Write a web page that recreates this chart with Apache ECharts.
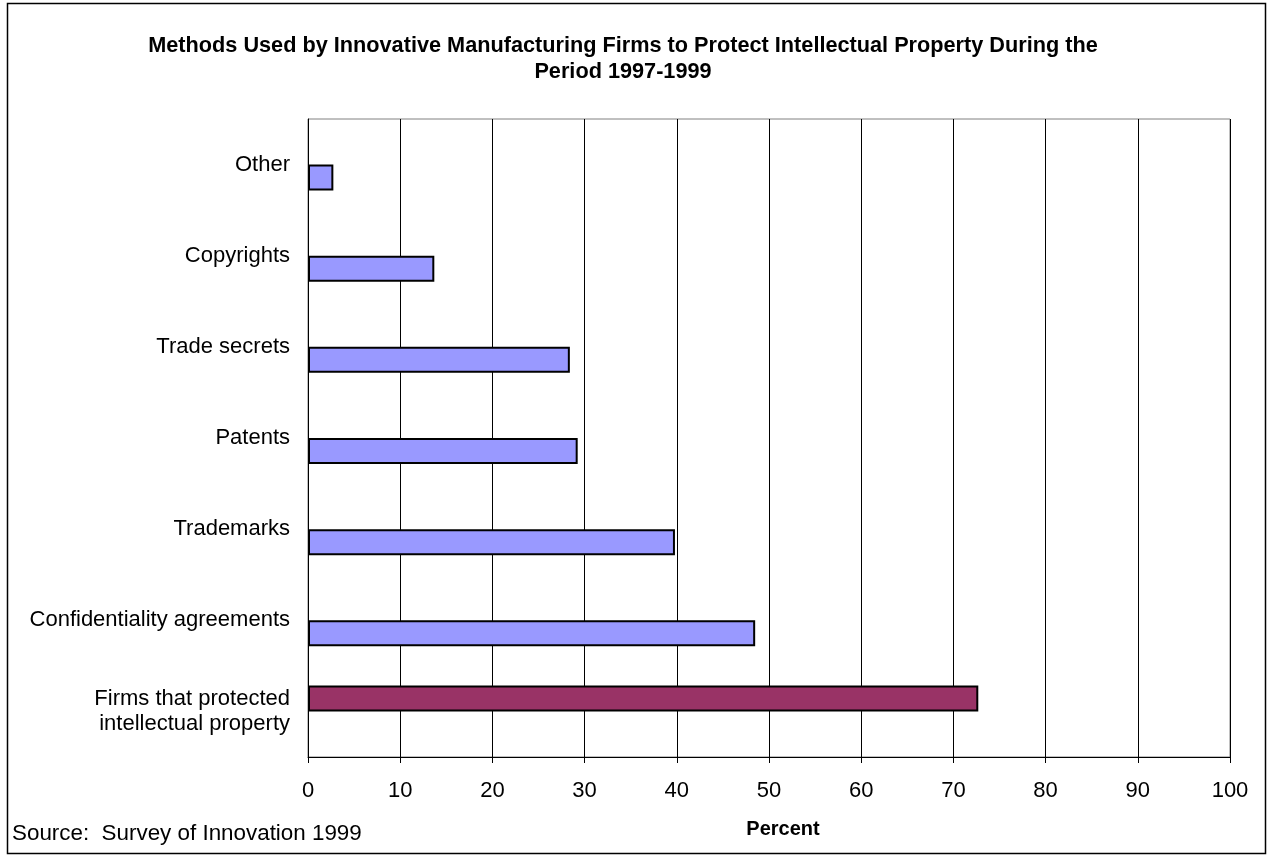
<!DOCTYPE html>
<html>
<head>
<meta charset="utf-8">
<script src="https://cdn.jsdelivr.net/npm/echarts@6/dist/echarts.min.js"></script>
<style>
  html, body { margin: 0; padding: 0; background: #fff; }
  #chart { width: 1271px; height: 857px; }
</style>
</head>
<body>
<div id="chart"></div>
<script>
// Categories listed from the bottom of the axis to the top
const categories = [
  'Firms that protected\nintellectual property',
  'Confidentiality agreements',
  'Trademarks',
  'Patents',
  'Trade secrets',
  'Copyrights',
  'Other'
];
// Share of innovative manufacturing firms using each method (percent)
const methodValues = [null, 48.5, 39.8, 29.25, 28.4, 13.7, 2.75];
// Overall share of firms that protected intellectual property (percent)
const totalValues = [72.7, null, null, null, null, null, null];
const xTicks = { min: 0, max: 100, interval: 10 };

const font = '"Liberation Sans", Arial, sans-serif';
const chart = echarts.init(document.getElementById('chart'));

chart.setOption({
  backgroundColor: '#fff',
  animation: false,
  title: {
    text: 'Methods Used by Innovative Manufacturing Firms to Protect Intellectual Property During the\nPeriod 1997-1999',
    left: 618,
    top: 28,
    textAlign: 'center',
    textStyle: { fontFamily: font, fontSize: 21.7, fontWeight: 'bold', color: '#000', lineHeight: 26 }
  },
  grid: {
    left: 308, right: 41, top: 119, bottom: 100,
    show: true, borderColor: '#808080', borderWidth: 1, backgroundColor: 'transparent'
  },
  xAxis: {
    type: 'value',
    min: xTicks.min, max: xTicks.max, interval: xTicks.interval,
    axisLine: { show: true, lineStyle: { color: '#000', width: 1 } },
    axisTick: { show: true, length: 6, lineStyle: { color: '#000' } },
    axisLabel: { fontFamily: font, fontSize: 22, color: '#000', margin: 23 },
    splitLine: { show: true, lineStyle: { color: '#000', width: 1 } }
  },
  yAxis: {
    type: 'category',
    data: categories,
    axisLine: { show: true, lineStyle: { color: '#000', width: 1 } },
    axisTick: { show: false },
    axisLabel: { fontFamily: font, fontSize: 22, color: '#000', margin: 18, lineHeight: 25, align: 'right' },
    splitLine: { show: false }
  },
  series: [
    {
      type: 'bar',
      data: totalValues,
      barWidth: 26,
      barGap: '0%',
      itemStyle: { color: '#993366', borderColor: '#000', borderWidth: 2 }
    },
    {
      type: 'bar',
      data: methodValues,
      barWidth: 26,
      barGap: '0%',
      itemStyle: { color: '#9999FF', borderColor: '#000', borderWidth: 2 }
    }
  ],
  graphic: [
    {
      type: 'rect',
      shape: { x: 7.5, y: 3.5, width: 1258, height: 850 },
      style: { fill: 'none', stroke: '#000', lineWidth: 1.5 },
      silent: true
    },
    {
      type: 'text',
      x: 783, y: 829,
      style: { text: 'Percent', font: 'bold 20px ' + font, fill: '#000', textAlign: 'center', textVerticalAlign: 'middle' }
    },
    {
      type: 'text',
      x: 12, y: 834,
      style: { text: 'Source:  Survey of Innovation 1999', font: '22.4px ' + font, fill: '#000', textAlign: 'left', textVerticalAlign: 'middle' }
    }
  ]
});
</script>
</body>
</html>
